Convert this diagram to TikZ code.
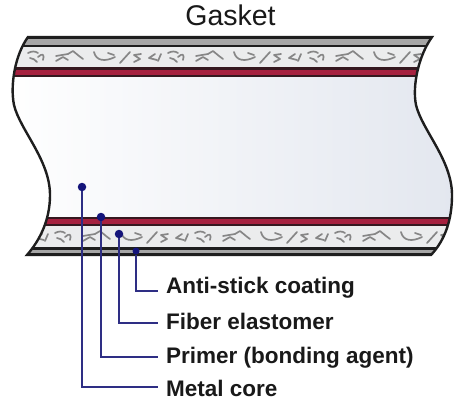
\documentclass[tikz,border=0pt]{standalone}
\usepackage{fontspec}
\setmainfont{Liberation Sans}
\definecolor{outline}{HTML}{1E1E1E}
\definecolor{stripgray}{HTML}{A6A6A6}
\definecolor{fibergray}{HTML}{EBECED}
\definecolor{primerred}{HTML}{A6213F}
\definecolor{primerdark}{HTML}{35181F}
\definecolor{leader}{HTML}{2E2E84}
\definecolor{dotblue}{HTML}{14147A}
\definecolor{strand}{HTML}{868686}
\definecolor{coreright}{HTML}{E3E7EF}
\tikzset{
  x=1pt, y=-1pt,
  edgeline/.style={draw=outline, line width=2.4pt, line join=miter},
  strands/.style={draw=strand, line width=1.7pt, line cap=round, line join=round},
  leaderline/.style={draw=leader, line width=2pt, line join=miter},
  tipdot/.style={circle, fill=dotblue, draw=none, minimum size=8.5pt, inner sep=0pt},
  layername/.style={anchor=base west, inner sep=0pt, font=\bfseries\fontsize{22.5}{25}\selectfont, text=black!90},
}
% One repeat of the fibre texture, 140 units long
\newcommand{\fibers}{
  \draw[strands] (1,6) .. controls (5,4) and (8,4) .. (11,6);
  \draw[strands] (3,11) .. controls (6,11) and (8,13) .. (10,15);
  \draw[strands] (11,10) .. controls (15,6) and (18,7) .. (16,13);
  \draw[strands] (29,14) -- (36,10) -- (41,13);
  \draw[strands] (29,9) -- (41,7) -- (46,4) -- (52,9) -- (56,12);
  \draw[strands] (67,5) .. controls (69,14) and (78,15) .. (88,10);
  \draw[strands] (81,6) -- (87,8);
  \draw[strands] (93,16) -- (103,5);
  \draw[strands] (114,7) -- (107,8) -- (113,12) -- (107,15);
  \draw[strands] (128,7) -- (122,11) -- (130,13);
  \draw[strands] (134,7) -- (131,14);
}
\newcommand{\gasketoutline}{
  (28,37) -- (432,37)
  .. controls (419,55) and (412,85) .. (416,105)
  .. controls (422,130) and (452,160) .. (452,195)
  .. controls (452,220) and (445,240) .. (431,255)
  -- (27,255)
  .. controls (40,240) and (50,220) .. (50,195)
  .. controls (50,160) and (20,130) .. (14,105)
  .. controls (10,85) and (15,55) .. (28,37) -- cycle
}
\begin{document}
\begin{tikzpicture}
\useasboundingbox (0,0) rectangle (454,404);
\fill[white] (0,0) rectangle (454,404);
\node[anchor=base, inner sep=0pt, font=\fontsize{28.5}{31}\selectfont, text=black!90] (title) at (230.5,26) {Gasket};

\begin{scope}
  \clip \gasketoutline;
  % metal core
  \shade[left color=white, right color=coreright] (0,77) rectangle (454,217);
  % upper layers
  \fill[outline] (0,36) rectangle (454,39);
  \fill[stripgray] (0,39) rectangle (454,45);
  \fill[outline] (0,45) rectangle (454,47);
  \fill[fibergray] (0,47) rectangle (454,67);
  \fill[primerdark] (0,67) rectangle (454,77);
  \fill[primerred] (0,69.5) rectangle (454,74.5);
  % lower layers
  \fill[primerdark] (0,217) rectangle (454,226);
  \fill[primerred] (0,219) rectangle (454,224);
  \fill[fibergray] (0,226) rectangle (454,247);
  \fill[outline] (0,247) rectangle (454,249.5);
  \fill[stripgray] (0,249.5) rectangle (454,253);
  \fill[outline] (0,253) rectangle (454,256);
  % fibre texture in both elastomer bands
  \foreach \dx in {0,140,280} {
    \begin{scope}[shift={(27+\dx,47)}] \fibers \end{scope}
  }
  \foreach \dx in {-140,0,140,280} {
    \begin{scope}[shift={(54+\dx,227)}] \fibers \end{scope}
  }
\end{scope}
\draw[edgeline] \gasketoutline;

% tips of the leader lines
\node[tipdot] (tipcore) at (82,187) {};
\node[tipdot] (tipprimer) at (101,217) {};
\node[tipdot] (tipfiber) at (119,234) {};
\node[tipdot, minimum size=7pt] (tipcoat) at (136,251) {};

% layer names
\node[layername] (coat) at (166,293) {Anti-stick coating};
\node[layername] (fiber) at (166,329) {Fiber elastomer};
\node[layername] (primer) at (166,363) {Primer (bonding agent)};
\node[layername] (core) at (166,396) {Metal core};

% leader ends just ahead of the names
\coordinate (endcoat) at (158,291);
\coordinate (endfiber) at (158,323);
\coordinate (endprimer) at (158,357);
\coordinate (endcore) at (158,387);
\draw[leaderline] (tipcoat) |- (endcoat);
\draw[leaderline] (tipfiber) |- (endfiber);
\draw[leaderline] (tipprimer) |- (endprimer);
\draw[leaderline] (tipcore) |- (endcore);
\end{tikzpicture}
\end{document}
